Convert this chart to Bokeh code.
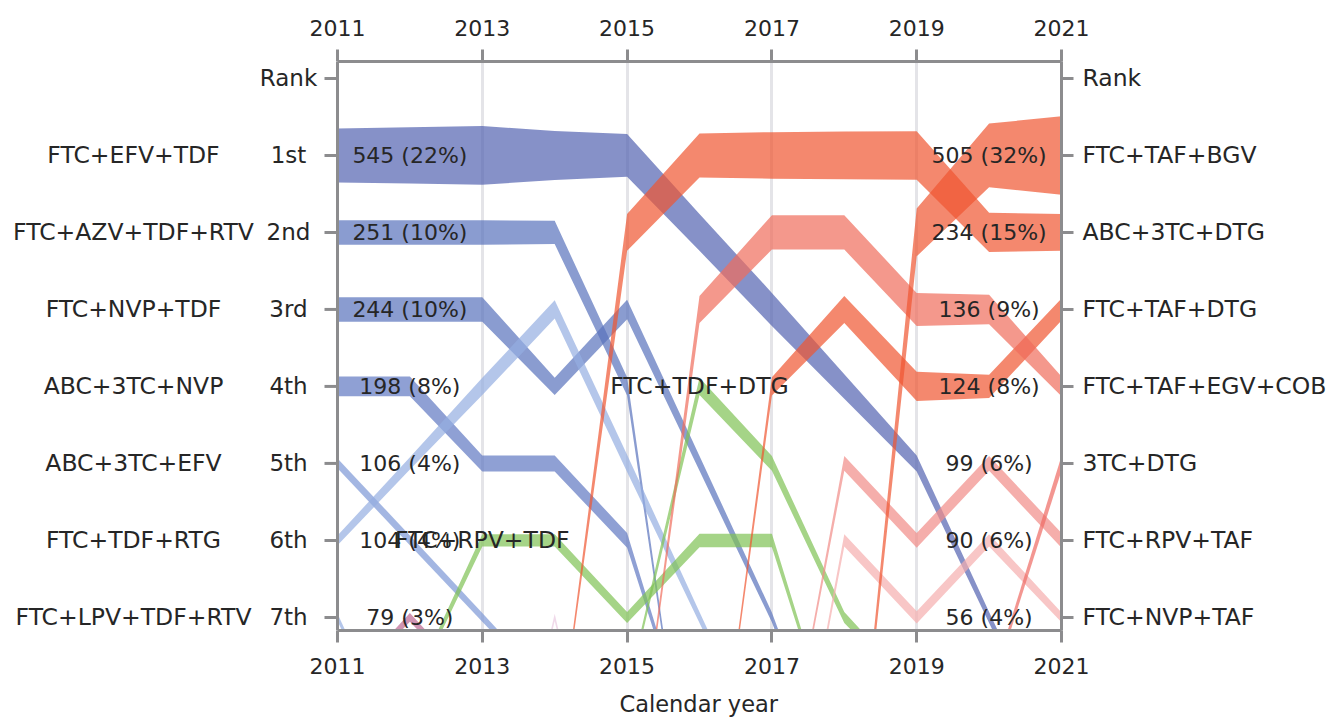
from bokeh.plotting import figure
from bokeh.models import Range1d, LinearAxis, FixedTicker, Grid, ColumnDataSource, Title
from bokeh.embed import file_html
from bokeh.resources import INLINE
from bokeh.core.properties import value

# ---------------- data ----------------
years = [2011, 2012, 2013, 2014, 2015, 2016, 2017, 2018, 2019, 2020, 2021]
N = None

# rank per year (None = not present), share (%) per year
rank_ftc_efv_tdf = [1, 1, 1, 1, 1, 2, 3, 4, 5, 7, 9]
pct_ftc_efv_tdf = [22, 23, 24, 20, 17.5, 15, 13.5, 10, 6.5, 4.5, 3]

rank_ftc_azv_tdf_rtv = [2, 2, 2, 2, 4, 10.5, N, N, N, N, N]
pct_ftc_azv_tdf_rtv = [10, 10, 10, 9.5, 7.5, 2, N, N, N, N, N]

rank_ftc_nvp_tdf = [3, 3, 3, 4, 3, 5, 7, 9.5, N, N, N]
pct_ftc_nvp_tdf = [10, 10, 10, 7, 8, 6, 4, 2, N, N, N]

rank_abc_3tc_nvp = [4, 4, 5, 5, 6, 9, N, N, N, N, N]
pct_abc_3tc_nvp = [8, 8, 6.5, 6.5, 6, 2, N, N, N, N, N]

rank_abc_3tc_efv = [5, 6, 7, 8, N, N, N, N, N, N, N]
pct_abc_3tc_efv = [4, 4, 3.5, 2.5, N, N, N, N, N, N, N]

rank_ftc_tdf_rtg = [6, 5, 4, 3, 5, 7, 9, N, N, N, N]
pct_ftc_tdf_rtg = [4, 5, 7, 7.5, 7, 4.5, 2, N, N, N, N]

rank_ftc_lpv_tdf_rtv = [7, 9, N, N, N, N, N, N, N, N, N]
pct_ftc_lpv_tdf_rtv = [3, 2, N, N, N, N, N, N, N, N, N]

rank_other_a = [8, 7, 8, N, N, N, N, N, N, N, N]
pct_other_a = [2.5, 3.5, 2.5, N, N, N, N, N, N, N, N]

rank_other_b = [N, N, 11, 7, 11, N, N, N, N, N, N]
pct_other_b = [N, N, 1, 3, 1, N, N, N, N, N, N]

rank_ftc_rpv_tdf = [N, 8, 6, 6, 7, 6, 6, 9, N, N, N]
pct_ftc_rpv_tdf = [N, 2.5, 5, 5, 4.5, 5.5, 5.5, 2, N, N, N]

rank_ftc_tdf_dtg = [N, N, N, N, 8, 4, 5, 7, 8, 10, N]
pct_ftc_tdf_dtg = [N, N, N, N, 3, 7, 6, 4.5, 2.5, 1, N]

rank_abc_3tc_dtg = [N, N, N, 9, 2, 1, 1, 1, 1, 2, 2]
pct_abc_3tc_dtg = [N, N, N, 1, 15, 18, 19, 19.5, 19.8, 16, 15]

rank_ftc_taf_egv_cob = [N, N, N, N, 10, 3, 2, 2, 3, 3, 4]
pct_ftc_taf_egv_cob = [N, N, N, N, 1, 11, 14, 14, 13.5, 12, 8]

rank_ftc_taf_dtg = [N, N, N, N, N, 11, 4, 3, 4, 4, 3]
pct_ftc_taf_dtg = [N, N, N, N, N, 1, 7.5, 11, 12, 9.5, 9]

rank_ftc_taf_bgv = [N, N, N, N, N, N, N, 11, 2, 1, 1]
pct_ftc_taf_bgv = [N, N, N, N, N, N, N, 1, 19.5, 26, 32]

rank_ftc_rpv_taf = [N, N, N, N, N, N, 10, 5, 6, 5, 6]
pct_ftc_rpv_taf = [N, N, N, N, N, N, 1, 6, 6, 6, 6]

rank_ftc_nvp_taf = [N, N, N, N, N, N, 11, 6, 7, 6, 7]
pct_ftc_nvp_taf = [N, N, N, N, N, N, 1, 5, 5, 5, 4]

rank_3tc_dtg = [N, N, N, N, N, N, N, N, N, 8, 5]
pct_3tc_dtg = [N, N, N, N, N, N, N, N, N, 3, 6]

rank_ticks = [0, 1, 2, 3, 4, 5, 6, 7]
rank_names = ["Rank", "1st", "2nd", "3rd", "4th", "5th", "6th", "7th"]
left_regimens = ["FTC+EFV+TDF", "FTC+AZV+TDF+RTV", "FTC+NVP+TDF", "ABC+3TC+NVP",
                 "ABC+3TC+EFV", "FTC+TDF+RTG", "FTC+LPV+TDF+RTV"]
right_regimens = ["FTC+TAF+BGV", "ABC+3TC+DTG", "FTC+TAF+DTG", "FTC+TAF+EGV+COB",
                  "3TC+DTG", "FTC+RPV+TAF", "FTC+NVP+TAF"]
left_counts = ["545 (22%)", "251 (10%)", "244 (10%)", "198 (8%)", "106 (4%)", "104 (4%)", "79 (3%)"]
right_counts = ["505 (32%)", "234 (15%)", "136 (9%)", "124 (8%)", "99 (6%)", "90 (6%)", "56 (4%)"]
mid_names = ["FTC+TDF+DTG", "FTC+RPV+TDF"]
mid_years = [2016, 2013]
mid_ranks = [4, 6]
year_ticks = [2011, 2013, 2015, 2017, 2019, 2021]

# ---------------- layout / styles ----------------
FONT = "DejaVu Sans"
TXT = "#262626"
AX = "#8C8C8E"
ALPHA = 0.7
PX_YEAR = 72.4          # pixels per year
LEFT_PX = 337           # pixels from canvas left to year 2011
K = 2.45 / 77.0         # rank units per percent of share
X0 = years[0] - LEFT_PX / PX_YEAR
X1 = years[-1]
Y_TOP, Y_BOT = -0.22, 7.17

series = [
    (rank_ftc_efv_tdf, pct_ftc_efv_tdf, "#5262B0"),
    (rank_ftc_azv_tdf_rtv, pct_ftc_azv_tdf_rtv, "#5872BC"),
    (rank_ftc_nvp_tdf, pct_ftc_nvp_tdf, "#5872BC"),
    (rank_abc_3tc_nvp, pct_abc_3tc_nvp, "#5F77C2"),
    (rank_abc_3tc_efv, pct_abc_3tc_efv, "#7C97D6"),
    (rank_ftc_tdf_rtg, pct_ftc_tdf_rtg, "#94AEE1"),
    (rank_ftc_lpv_tdf_rtv, pct_ftc_lpv_tdf_rtv, "#94AEE1"),
    (rank_other_a, pct_other_a, "#BC6691"),
    (rank_other_b, pct_other_b, "#EACAE1"),
    (rank_ftc_rpv_tdf, pct_ftc_rpv_tdf, "#7FC254"),
    (rank_ftc_tdf_dtg, pct_ftc_tdf_dtg, "#7FC254"),
    (rank_ftc_nvp_taf, pct_ftc_nvp_taf, "#F5AEAE"),
    (rank_ftc_rpv_taf, pct_ftc_rpv_taf, "#F18B88"),
    (rank_3tc_dtg, pct_3tc_dtg, "#EE6962"),
    (rank_ftc_taf_dtg, pct_ftc_taf_dtg, "#EF5530"),
    (rank_ftc_taf_egv_cob, pct_ftc_taf_egv_cob, "#EF6C5B"),
    (rank_ftc_taf_bgv, pct_ftc_taf_bgv, "#EF5530"),
    (rank_abc_3tc_dtg, pct_abc_3tc_dtg, "#EF5530"),
]


def band(ranks, pcts):
    xs, up, lo = [], [], []
    for yr, r, q in zip(years, ranks, pcts):
        if r is None:
            continue
        h = q * K / 2.0
        xs.append(yr)
        up.append(r - h)
        lo.append(r + h)
    return xs + xs[::-1], up + lo[::-1]


p = figure(frame_width=int(round((X1 - X0) * PX_YEAR)), frame_height=569,
           x_range=Range1d(X0, X1), y_range=Range1d(Y_BOT, Y_TOP),
           x_axis_location=None, y_axis_location=None,
           output_backend="svg", toolbar_location=None,
           min_border_left=0, min_border_right=270,
           min_border_top=61, min_border_bottom=90)
p.outline_line_color = None
p.xgrid.visible = False
p.ygrid.visible = False
p.background_fill_color = "white"
p.border_fill_color = "white"

p.add_layout(Grid(dimension=0, ticker=FixedTicker(ticks=[2013, 2015, 2017, 2019]),
                  grid_line_color="#E4E4E8", grid_line_width=3))

for ranks, pcts, col in series:
    bx, by = band(ranks, pcts)
    p.patch(bx, by, fill_color=col, fill_alpha=ALPHA, line_color=None)

# left spine and rank ticks (drawn in data space at year 2011)
tick_len = 13 / PX_YEAR
p.segment(x0=[years[0]], y0=[Y_TOP], x1=[years[0]], y1=[Y_BOT], line_color=AX, line_width=3)
p.segment(x0=[years[0] - tick_len] * len(rank_ticks), y0=rank_ticks,
          x1=[years[0]] * len(rank_ticks), y1=rank_ticks, line_color=AX, line_width=3)


def style_axis(ax, size="22px"):
    ax.axis_line_color = AX
    ax.axis_line_width = 3
    ax.major_tick_line_color = AX
    ax.major_tick_line_width = 3
    ax.major_tick_out = 12
    ax.major_tick_in = 0
    ax.minor_tick_out = 0
    ax.minor_tick_in = 0
    ax.major_label_text_font = FONT
    ax.major_label_text_font_size = size
    ax.major_label_text_color = TXT


top = LinearAxis(ticker=FixedTicker(ticks=year_ticks), bounds=(years[0], years[-1]))
style_axis(top)
top.major_label_standoff = 14
p.add_layout(top, "above")

bottom = LinearAxis(ticker=FixedTicker(ticks=year_ticks), bounds=(years[0], years[-1]))
style_axis(bottom)
bottom.major_label_standoff = 15
p.add_layout(bottom, "below")

right = LinearAxis(ticker=FixedTicker(ticks=rank_ticks),
                   major_label_overrides={t: s for t, s in zip(rank_ticks, ["Rank"] + right_regimens)})
style_axis(right, "23.5px")
right.major_label_standoff = 9
p.add_layout(right, "right")

# x-axis title, centred under the 2011-2021 span (left-aligned with an offset)
span_mid = LEFT_PX + (years[-1] - years[0]) * PX_YEAR / 2.0
title_half_w = 80
xt = Title(text="Calendar year", align="left", offset=span_mid - title_half_w,
           text_font=FONT, text_font_size="22.5px", text_font_style="normal",
           text_color=TXT, standoff=24)
p.add_layout(xt, "below")

# left text columns
rank_col_x = years[0] - (LEFT_PX - 288) / PX_YEAR
name_col_x = years[0] - (LEFT_PX - 133) / PX_YEAR
lab = ColumnDataSource(dict(x=[rank_col_x] * len(rank_ticks), y=rank_ticks, t=rank_names))
p.text(x="x", y="y", text="t", source=lab, text_align="center", text_baseline="middle",
       text_font=value(FONT), text_font_size="23px", text_color=TXT)
nam = ColumnDataSource(dict(x=[name_col_x] * len(left_regimens), y=rank_ticks[1:], t=left_regimens))
p.text(x="x", y="y", text="t", source=nam, text_align="center", text_baseline="middle",
       text_font=value(FONT), text_font_size="23.5px", text_color=TXT)

cnt = ColumnDataSource(dict(
    x=[2012] * 7 + [2020] * 7,
    y=rank_ticks[1:] + rank_ticks[1:],
    t=left_counts + right_counts))
p.text(x="x", y="y", text="t", source=cnt, text_align="center", text_baseline="middle",
       text_font=value(FONT), text_font_size="22px", text_color=TXT)

mid = ColumnDataSource(dict(x=mid_years, y=mid_ranks, t=mid_names))
p.text(x="x", y="y", text="t", source=mid, text_align="center", text_baseline="middle",
       text_font=value(FONT), text_font_size="23.5px", text_color=TXT)

open("out.html", "w").write(file_html(p, INLINE))
